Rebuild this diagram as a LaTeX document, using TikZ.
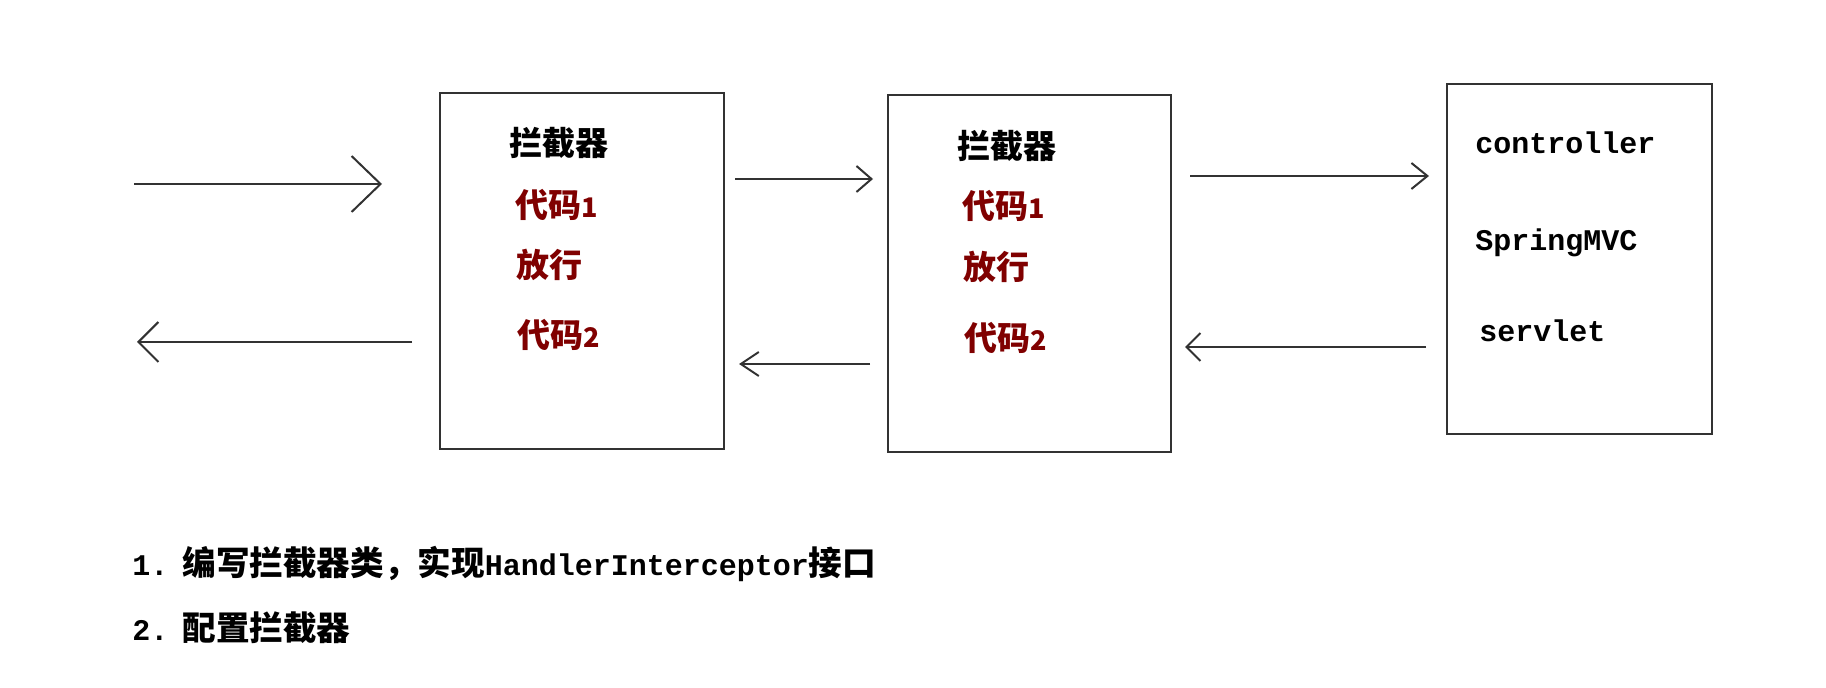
\documentclass[tikz,border=0pt]{standalone}
\usepackage{fontspec}
\usetikzlibrary{arrows.meta}
\newfontfamily\cjk{Noto Sans CJK SC}
\newfontfamily\mono{Liberation Mono}
\definecolor{codered}{RGB}{128,0,0}
\definecolor{linegray}{RGB}{50,50,50}
\tikzset{
  box/.style={draw=linegray, line width=1.2pt, anchor=north west, inner sep=0pt},
  flow/.style={draw=linegray, line width=1pt},
  title/.style={anchor=west, inner sep=0pt, font=\cjk\fontsize{16.5pt}{18pt}\selectfont\bfseries, text=black},
  code/.style={anchor=west, inner sep=0pt, font=\cjk\fontsize{16.5pt}{18pt}\selectfont\bfseries, text=codered},
  mvc/.style={anchor=west, inner sep=0pt, font=\mono\fontsize{15pt}{17pt}\selectfont\bfseries, text=black},
  note/.style={anchor=west, inner sep=0pt, text=black}
}
\newcommand{\dg}[1]{{\fontsize{13.5pt}{15pt}\selectfont #1}}
\begin{document}
\begin{tikzpicture}[x=0.5pt,y=-0.5pt]
\useasboundingbox[fill=white] (0,0) rectangle (1826,688);

% boxes
\node[box, minimum width=142pt, minimum height=178pt] (b1) at (439,92) {};
\node[box, minimum width=141.5pt, minimum height=178.5pt] (b2) at (887,94) {};
\node[box, minimum width=132.5pt, minimum height=175pt] (b3) at (1446,83) {};

% box 1 texts
\node[title] (t1) at (509,143) {拦截器};
\node[code] (c11) at (515,205) {代码\dg{1}};
\node[code] (p1) at (516,265) {放行};
\node[code] (c12) at (517,335) {代码\dg{2}};

% box 2 texts
\node[title] (t2) at (957,146) {拦截器};
\node[code] (c21) at (962,206) {代码\dg{1}};
\node[code] (p2) at (963,267) {放行};
\node[code] (c22) at (964,338) {代码\dg{2}};

% box 3 texts
\node[mvc] (m1) at (1475,143) {controller};
\node[mvc] (m2) at (1475,243) {SpringMVC};
\node[mvc] (m3) at (1479,331) {servlet};

% arrow end points
\coordinate (a1s) at (134,184);  \coordinate (a1e) at (382,184);
\coordinate (a2s) at (412,342);  \coordinate (a2e) at (137,342);
\coordinate (a3s) at (735,179);  \coordinate (a3e) at (873,179);
\coordinate (a4s) at (870,364);  \coordinate (a4e) at (739,364);
\coordinate (a5s) at (1190,176); \coordinate (a5e) at (1429,176);
\coordinate (a6s) at (1426,347); \coordinate (a6e) at (1185,347);

\draw[flow, -{Straight Barb[length=14.5pt,width=28pt,line width=1pt]}] (a1s) -- (a1e);
\draw[flow, -{Straight Barb[length=10pt,width=20pt,line width=1pt]}] (a2s) -- (a2e);
\draw[flow, -{Straight Barb[length=7.5pt,width=13pt,line width=1pt]}] (a3s) -- (a3e);
\draw[flow, -{Straight Barb[length=9pt,width=12pt,line width=1pt]}] (a4s) -- (a4e);
\draw[flow, -{Straight Barb[length=8pt,width=13pt,line width=1pt]}] (a5s) -- (a5e);
\draw[flow, -{Straight Barb[length=7pt,width=14pt,line width=1pt]}] (a6s) -- (a6e);

% notes
\node[note] (n1) at (132,564) {{\mono\fontsize{15pt}{17pt}\selectfont\bfseries 1.}\hspace{7pt}{\cjk\fontsize{16.8pt}{18pt}\selectfont\bfseries 编写拦截器类，实现}{\mono\fontsize{15pt}{17pt}\selectfont\bfseries HandlerInterceptor}{\cjk\fontsize{16.8pt}{18pt}\selectfont\bfseries 接口}};
\node[note] (n2) at (132,628) {{\mono\fontsize{15pt}{17pt}\selectfont\bfseries 2.}\hspace{7pt}{\cjk\fontsize{16.8pt}{18pt}\selectfont\bfseries 配置拦截器}};
\end{tikzpicture}
\end{document}
